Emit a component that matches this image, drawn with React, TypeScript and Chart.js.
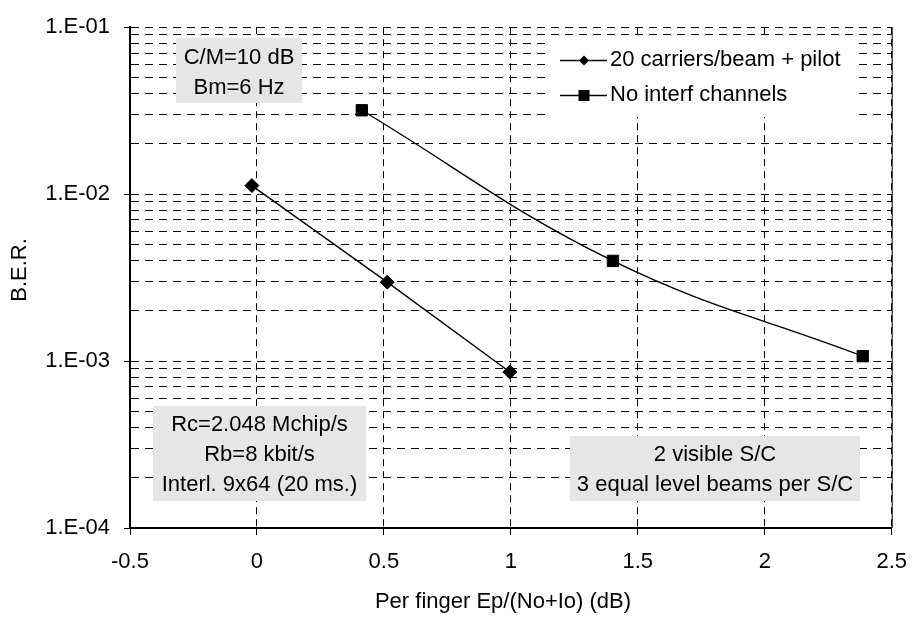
import React, { useEffect, useRef } from 'react';
import { Chart, registerables } from 'chart.js';

Chart.register(...registerables);

// ---------- data ----------
const series1Name = '20 carriers/beam + pilot';
const series1X = [-0.02, 0.513, 0.996];
const series1Y = [1.125e-2, 2.97e-3, 8.6e-4];

const series2Name = 'No interf channels';
const series2X = [0.413, 1.402, 2.386];
const series2Y = [3.18e-2, 3.98e-3, 1.07e-3];

const xTickValues = [-0.5, 0, 0.5, 1, 1.5, 2, 2.5];
const xTickLabels = ['-0.5', '0', '0.5', '1', '1.5', '2', '2.5'];
const yDecades = [1e-4, 1e-3, 1e-2, 1e-1];
const yDecadeLabels = ['1.E-04', '1.E-03', '1.E-02', '1.E-01'];
const yMinorMultipliers = [2, 3, 4, 5, 6, 7, 8, 9];

const xTitle = 'Per finger Ep/(No+Io) (dB)';
const yTitle = 'B.E.R.';
const noteTopLeft = ['C/M=10 dB', 'Bm=6 Hz'];
const noteBottomLeft = ['Rc=2.048 Mchip/s', 'Rb=8 kbit/s', 'Interl. 9x64 (20 ms.)'];
const noteBottomRight = ['2 visible S/C', '3 equal level beams per S/C'];

// ---------- styling ----------
const FONT_FAMILY = '"Liberation Sans", Arial, sans-serif';
const FONT_SIZE = 22;
const FONT = `${FONT_SIZE}px ${FONT_FAMILY}`;

function isDecade(v: number): number {
  for (let i = 0; i < yDecades.length; i++) {
    if (Math.abs(v - yDecades[i]) / yDecades[i] < 1e-6) return i;
  }
  return -1;
}

function drawNote(ctx: CanvasRenderingContext2D, x: number, y: number, w: number, h: number, lines: string[], firstY: number, gap: number) {
  ctx.save();
  ctx.fillStyle = '#e6e6e6';
  ctx.fillRect(x, y, w, h);
  ctx.fillStyle = '#000';
  ctx.font = FONT;
  ctx.textAlign = 'center';
  ctx.textBaseline = 'middle';
  lines.forEach((t, i) => ctx.fillText(t, x + w / 2, firstY + i * gap));
  ctx.restore();
}

function drawMarker(ctx: CanvasRenderingContext2D, kind: string, cx: number, cy: number) {
  ctx.save();
  ctx.fillStyle = '#000';
  ctx.beginPath();
  if (kind === 'diamond') {
    const r = 5;
    ctx.moveTo(cx - r, cy);
    ctx.lineTo(cx, cy - r);
    ctx.lineTo(cx + r, cy);
    ctx.lineTo(cx, cy + r);
    ctx.closePath();
  } else {
    const s = 5.5;
    ctx.rect(cx - s, cy - s, 2 * s, 2 * s);
  }
  ctx.fill();
  ctx.restore();
}

const decorPlugin = {
  id: 'decor',
  beforeDatasetsDraw(chart: any) {
    const { ctx, chartArea: a } = chart;
    // right frame line
    ctx.save();
    ctx.strokeStyle = '#000';
    ctx.lineWidth = 1;
    ctx.beginPath();
    ctx.moveTo(a.right + 0.5, a.top);
    ctx.lineTo(a.right + 0.5, a.bottom);
    ctx.stroke();
    ctx.restore();

    // annotation boxes
    drawNote(ctx, 176, 38, 126, 65, noteTopLeft, 58, 29.5);
    drawNote(ctx, 153, 406, 213, 95, noteBottomLeft, 425, 30);
    drawNote(ctx, 570, 436, 290, 65, noteBottomRight, 455, 30);

    // legend
    ctx.save();
    ctx.fillStyle = '#fff';
    ctx.fillRect(549, 39, 304, 78);
    const rows = [
      { name: series1Name, kind: 'diamond', y: 60 },
      { name: series2Name, kind: 'square', y: 95 },
    ];
    rows.forEach((r) => {
      ctx.strokeStyle = '#000';
      ctx.lineWidth = 1.4;
      ctx.beginPath();
      ctx.moveTo(560, r.y + 0.5);
      ctx.lineTo(607, r.y + 0.5);
      ctx.stroke();
      drawMarker(ctx, r.kind, 584, r.y + 0.5);
      ctx.fillStyle = '#000';
      ctx.font = FONT;
      ctx.textAlign = 'left';
      ctx.textBaseline = 'middle';
      ctx.fillText(r.name, 610, r.y);
    });
    ctx.restore();
  },
  afterDraw(chart: any) {
    const { ctx } = chart;
    ctx.save();
    ctx.fillStyle = '#000';
    ctx.font = FONT;
    ctx.textAlign = 'center';
    ctx.textBaseline = 'middle';
    ctx.fillText(xTitle, 503, 602);
    ctx.translate(20, 270);
    ctx.rotate(-Math.PI / 2);
    ctx.fillText(yTitle, 0, 0);
    ctx.restore();
  },
};

export default function App() {
  const canvasRef = useRef<HTMLCanvasElement | null>(null);

  useEffect(() => {
    if (!canvasRef.current) return;
    const d1 = series1X.map((x, i) => ({ x, y: series1Y[i] }));
    const d2 = series2X.map((x, i) => ({ x, y: series2Y[i] }));

    const chart = new Chart(canvasRef.current, {
      type: 'line',
      data: {
        datasets: [
          {
            label: series1Name,
            data: d1,
            borderColor: '#000',
            backgroundColor: '#000',
            borderWidth: 1.4,
            pointStyle: 'rectRot',
            pointRadius: 7,
            pointBorderWidth: 1,
            pointBackgroundColor: '#000',
            pointBorderColor: '#000',
            tension: 0,
          },
          {
            label: series2Name,
            data: d2,
            borderColor: '#000',
            backgroundColor: '#000',
            borderWidth: 1.4,
            pointStyle: 'rect',
            pointRadius: 8,
            pointBorderWidth: 1,
            pointBackgroundColor: '#000',
            pointBorderColor: '#000',
            tension: 0.4,
          },
        ],
      },
      options: {
        animation: false,
        responsive: false,
        maintainAspectRatio: false,
        layout: { padding: { top: 18, right: 21, bottom: 0, left: 0 } },
        plugins: {
          legend: { display: false },
          tooltip: { enabled: false },
        },
        scales: {
          x: {
            type: 'linear',
            min: -0.5,
            max: 2.5,
            afterFit: (s: any) => { s.height = 91; },
            afterBuildTicks: (s: any) => { s.ticks = xTickValues.map((v) => ({ value: v })); },
            ticks: {
              autoSkip: false,
              maxRotation: 0,
              padding: 14,
              color: '#000',
              font: { family: FONT_FAMILY, size: FONT_SIZE },
              callback: (v: any) => {
                const i = xTickValues.findIndex((t) => Math.abs(t - Number(v)) < 1e-9);
                return i >= 0 ? xTickLabels[i] : '';
              },
            },
            grid: {
              color: '#000',
              lineWidth: 1,
              drawTicks: true,
              tickLength: 7,
              tickColor: '#000',
              tickWidth: 1,
            },
            border: { display: true, color: '#000', width: 2, dash: [7, 5] },
          },
          y: {
            type: 'logarithmic',
            min: 1e-4,
            max: 1e-1,
            afterFit: (s: any) => { s.width = 130; },
            afterBuildTicks: (s: any) => {
              const t: { value: number }[] = [];
              for (let e = 0; e < yDecades.length; e++) {
                t.push({ value: yDecades[e] });
                if (e < yDecades.length - 1) {
                  yMinorMultipliers.forEach((m) => t.push({ value: m * yDecades[e] }));
                }
              }
              s.ticks = t;
            },
            ticks: {
              autoSkip: false,
              padding: 14,
              color: '#000',
              font: { family: FONT_FAMILY, size: FONT_SIZE },
              callback: (v: any) => {
                const i = isDecade(Number(v));
                return i >= 0 ? yDecadeLabels[i] : '';
              },
            },
            grid: {
              color: '#000',
              lineWidth: 1,
              drawTicks: true,
              tickLength: 6,
              tickColor: '#000',
              tickWidth: (c: any) => (c.tick && isDecade(c.tick.value) >= 0 ? 1 : 0),
            },
            border: { display: true, color: '#000', width: 2, dash: [8, 6] },
          },
        },
      },
      plugins: [decorPlugin],
    } as any);

    return () => chart.destroy();
  }, []);

  return (
    <div style={{ position: 'fixed', left: 0, top: 0, width: 921, height: 619, background: '#fff' }}>
      <canvas ref={canvasRef} width={921} height={619} style={{ display: 'block', width: 921, height: 619 }} />
    </div>
  );
}
